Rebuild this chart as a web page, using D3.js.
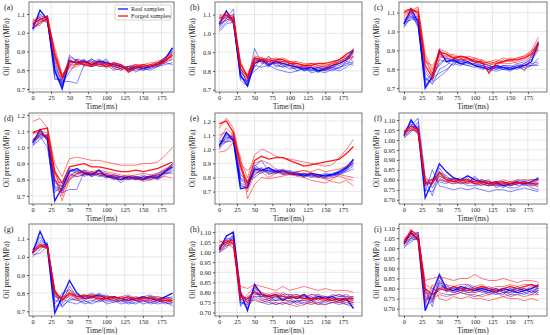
<!DOCTYPE html>
<html>
<head>
<meta charset="utf-8">
<script src="https://cdn.jsdelivr.net/npm/d3@7"></script>
<style>
body { margin: 0; background: #fff; }
svg text { font-family: "Liberation Serif", "DejaVu Serif", serif; fill: #222; }
</style>
</head>
<body>
<div class="container"></div>
<script>
// sample times (ms)
const timeMs = [0,10,20,30,40,50,60,70,80,90,100,110,120,130,140,150,160,170,180,190]
const xTicks = [0,25,50,75,100,125,150,175]
const panelLabels = ["(a)","(b)","(c)","(d)","(e)","(f)","(g)","(h)","(i)"]
const legendLabels = ["Real samples", "Forged samples"]

// oil pressure (MPa), one row per sample
const realA = [
[1.02,1.12,1.07,0.80,0.70,0.85,0.84,0.85,0.83,0.85,0.84,0.83,0.82,0.80,0.82,0.81,0.82,0.83,0.86,0.92],
[1.04,1.09,1.08,0.76,0.74,0.88,0.85,0.83,0.86,0.84,0.85,0.82,0.81,0.82,0.83,0.81,0.82,0.84,0.87,0.90],
[1.05,1.07,1.06,0.85,0.72,0.82,0.86,0.82,0.84,0.86,0.83,0.84,0.82,0.81,0.81,0.82,0.83,0.82,0.85,0.88],
[1.03,1.05,1.08,0.78,0.73,0.79,0.84,0.86,0.82,0.83,0.84,0.82,0.83,0.81,0.80,0.81,0.82,0.83,0.84,0.86],
[1.06,1.08,1.05,0.82,0.71,0.86,0.83,0.84,0.85,0.82,0.82,0.83,0.80,0.82,0.81,0.80,0.81,0.82,0.83,0.84],
[1.02,1.06,1.07,0.75,0.75,0.83,0.86,0.85,0.83,0.84,0.86,0.81,0.82,0.80,0.82,0.82,0.81,0.83,0.85,0.89],
[1.04,1.10,1.06,0.83,0.74,0.74,0.73,0.83,0.82,0.85,0.83,0.80,0.81,0.82,0.79,0.81,0.80,0.82,0.84,0.83],
[1.01,1.07,1.09,0.79,0.72,0.87,0.85,0.84,0.86,0.83,0.82,0.84,0.82,0.81,0.82,0.80,0.82,0.84,0.86,0.91]]
const forgedA = [
[1.03,1.04,1.08,0.90,0.77,0.84,0.85,0.84,0.85,0.83,0.84,0.83,0.82,0.80,0.82,0.83,0.84,0.84,0.86,0.89],
[1.05,1.07,1.09,0.88,0.76,0.85,0.84,0.83,0.82,0.84,0.82,0.84,0.83,0.79,0.81,0.83,0.82,0.83,0.85,0.88],
[1.06,1.08,1.06,0.86,0.75,0.83,0.83,0.85,0.84,0.83,0.83,0.82,0.81,0.82,0.82,0.81,0.83,0.85,0.86,0.87],
[1.04,1.06,1.07,0.92,0.78,0.81,0.82,0.84,0.83,0.85,0.81,0.83,0.82,0.81,0.83,0.82,0.83,0.84,0.85,0.86],
[1.03,1.05,1.08,0.87,0.76,0.84,0.85,0.83,0.84,0.82,0.83,0.82,0.83,0.81,0.82,0.82,0.83,0.83,0.84,0.90],
[1.07,1.08,1.07,0.89,0.77,0.82,0.83,0.84,0.82,0.83,0.84,0.81,0.80,0.82,0.83,0.83,0.82,0.84,0.87,0.89]]

const realB = [
[1.05,1.12,1.06,0.78,0.72,0.84,0.86,0.83,0.85,0.84,0.83,0.82,0.81,0.82,0.80,0.81,0.83,0.84,0.86,0.91],
[1.03,1.08,1.13,0.80,0.74,0.92,0.84,0.85,0.83,0.82,0.84,0.83,0.80,0.81,0.82,0.80,0.82,0.83,0.85,0.84],
[1.06,1.09,1.07,0.76,0.75,0.82,0.87,0.84,0.84,0.85,0.82,0.81,0.83,0.80,0.81,0.82,0.81,0.82,0.84,0.83],
[1.02,1.06,1.08,0.82,0.73,0.86,0.85,0.82,0.86,0.83,0.81,0.82,0.82,0.79,0.80,0.81,0.82,0.81,0.85,0.90],
[1.04,1.10,1.05,0.79,0.76,0.80,0.83,0.88,0.82,0.84,0.83,0.80,0.81,0.82,0.79,0.82,0.83,0.85,0.87,0.92],
[1.05,1.07,1.09,0.75,0.72,0.85,0.86,0.84,0.85,0.83,0.84,0.82,0.81,0.80,0.82,0.81,0.80,0.82,0.83,0.88],
[1.01,1.05,1.06,0.81,0.77,0.83,0.82,0.83,0.81,0.80,0.79,0.80,0.82,0.81,0.80,0.79,0.81,0.80,0.82,0.85],
[1.04,1.08,1.10,0.77,0.74,0.87,0.85,0.86,0.84,0.82,0.83,0.82,0.80,0.82,0.81,0.80,0.82,0.84,0.86,0.89]]
const forgedB = [
[1.09,1.11,1.08,0.82,0.76,0.86,0.87,0.86,0.87,0.86,0.85,0.84,0.83,0.84,0.84,0.83,0.84,0.86,0.88,0.92],
[1.08,1.10,1.07,0.84,0.77,0.87,0.86,0.85,0.86,0.86,0.84,0.84,0.83,0.83,0.84,0.84,0.85,0.86,0.89,0.91],
[1.06,1.09,1.10,0.80,0.75,0.85,0.86,0.86,0.85,0.85,0.84,0.83,0.82,0.84,0.83,0.82,0.83,0.85,0.87,0.87],
[1.10,1.08,1.06,0.83,0.78,0.88,0.87,0.85,0.86,0.85,0.85,0.84,0.82,0.83,0.82,0.81,0.83,0.84,0.86,0.88],
[1.05,1.07,1.09,0.85,0.76,0.84,0.85,0.84,0.84,0.84,0.83,0.82,0.83,0.82,0.82,0.83,0.84,0.85,0.87,0.90],
[1.07,1.10,1.08,0.81,0.77,0.86,0.86,0.87,0.86,0.87,0.85,0.85,0.84,0.84,0.83,0.82,0.84,0.86,0.88,0.85]]

const realC = [
[1.04,1.12,1.05,0.70,0.76,0.90,0.84,0.85,0.83,0.84,0.82,0.81,0.80,0.82,0.81,0.80,0.81,0.82,0.84,0.94],
[1.02,1.08,1.04,0.74,0.78,0.82,0.86,0.84,0.85,0.83,0.83,0.82,0.81,0.80,0.81,0.81,0.82,0.83,0.85,0.90],
[1.05,1.06,1.07,0.76,0.72,0.80,0.82,0.86,0.84,0.85,0.84,0.83,0.82,0.81,0.80,0.81,0.80,0.82,0.83,0.84],
[1.03,1.10,1.02,0.72,0.75,0.78,0.80,0.83,0.82,0.84,0.82,0.80,0.81,0.82,0.80,0.79,0.81,0.80,0.82,0.83],
[1.06,1.09,1.06,0.78,0.74,0.85,0.84,0.82,0.86,0.83,0.85,0.83,0.82,0.80,0.82,0.82,0.81,0.83,0.86,0.92],
[1.03,1.07,1.08,0.73,0.77,0.88,0.85,0.84,0.83,0.82,0.81,0.82,0.79,0.81,0.81,0.80,0.82,0.82,0.82,0.86],
[1.04,1.11,1.03,0.75,0.73,0.76,0.79,0.84,0.83,0.82,0.83,0.81,0.80,0.79,0.80,0.80,0.81,0.81,0.82,0.82],
[1.05,1.08,1.05,0.71,0.76,0.83,0.86,0.85,0.84,0.86,0.84,0.82,0.81,0.81,0.82,0.81,0.83,0.84,0.87,0.95]]
const forgedC = [
[1.08,1.11,1.13,0.86,0.78,0.91,0.89,0.87,0.86,0.87,0.86,0.85,0.83,0.84,0.86,0.85,0.86,0.87,0.90,0.97],
[1.10,1.12,1.10,0.82,0.76,0.89,0.88,0.86,0.87,0.86,0.84,0.84,0.78,0.83,0.84,0.85,0.85,0.86,0.88,0.93],
[1.06,1.10,1.12,0.88,0.80,0.88,0.87,0.86,0.85,0.85,0.85,0.83,0.84,0.83,0.85,0.84,0.86,0.87,0.89,0.95],
[1.09,1.11,1.08,0.80,0.74,0.86,0.87,0.88,0.86,0.84,0.86,0.84,0.82,0.84,0.83,0.83,0.84,0.85,0.88,0.90],
[1.07,1.10,1.11,0.84,0.82,0.87,0.86,0.85,0.87,0.86,0.83,0.85,0.83,0.82,0.84,0.85,0.83,0.79,0.87,0.91],
[1.11,1.12,1.09,0.85,0.77,0.90,0.88,0.86,0.85,0.86,0.85,0.83,0.84,0.85,0.84,0.86,0.85,0.86,0.89,0.94]]

const realD = [
[1.03,1.11,1.05,0.67,0.75,0.85,0.87,0.84,0.83,0.86,0.82,0.81,0.80,0.82,0.81,0.80,0.82,0.81,0.85,0.88],
[1.01,1.08,1.07,0.74,0.72,0.74,0.74,0.85,0.82,0.84,0.83,0.82,0.81,0.80,0.82,0.81,0.80,0.82,0.84,0.87],
[1.04,1.06,1.08,0.78,0.76,0.86,0.84,0.83,0.85,0.83,0.81,0.83,0.82,0.81,0.80,0.82,0.81,0.83,0.86,0.90],
[1.02,1.10,1.04,0.80,0.73,0.82,0.86,0.82,0.84,0.85,0.84,0.82,0.78,0.82,0.81,0.80,0.83,0.82,0.85,0.89],
[1.05,1.07,1.00,0.72,0.77,0.87,0.85,0.84,0.82,0.84,0.83,0.80,0.82,0.81,0.82,0.81,0.82,0.80,0.83,0.86],
[1.03,1.09,1.06,0.76,0.74,0.80,0.83,0.86,0.83,0.86,0.82,0.83,0.81,0.82,0.80,0.82,0.82,0.84,0.86,0.89],
[1.01,1.05,1.08,0.79,0.78,0.84,0.82,0.83,0.84,0.82,0.83,0.81,0.82,0.80,0.81,0.83,0.81,0.82,0.84,0.84],
[1.04,1.08,1.06,0.75,0.73,0.86,0.86,0.85,0.84,0.83,0.82,0.82,0.80,0.81,0.82,0.81,0.82,0.83,0.85,0.90]]
const forgedD = [
[1.16,1.18,1.12,0.90,0.82,0.93,0.94,0.93,0.92,0.92,0.91,0.90,0.89,0.89,0.89,0.90,0.90,0.91,0.95,1.00],
[1.09,1.11,1.12,0.85,0.78,0.88,0.89,0.90,0.88,0.88,0.87,0.86,0.85,0.85,0.86,0.85,0.86,0.87,0.89,0.91],
[1.03,1.07,1.08,0.82,0.67,0.80,0.84,0.85,0.83,0.84,0.84,0.83,0.82,0.83,0.82,0.80,0.81,0.82,0.86,0.89],
[1.08,1.10,1.09,0.84,0.75,0.82,0.85,0.84,0.85,0.84,0.82,0.81,0.80,0.81,0.81,0.79,0.80,0.81,0.82,0.81],
[1.05,1.08,1.07,0.80,0.72,0.81,0.84,0.86,0.85,0.86,0.85,0.84,0.83,0.82,0.83,0.84,0.83,0.84,0.87,0.88],
[1.10,1.09,1.06,0.86,0.70,0.83,0.82,0.83,0.84,0.83,0.83,0.82,0.82,0.82,0.80,0.81,0.82,0.83,0.84,0.85]]

const realE = [
[1.02,1.12,1.06,0.72,0.73,0.86,0.85,0.87,0.84,0.85,0.83,0.82,0.81,0.83,0.82,0.81,0.82,0.84,0.87,0.93],
[1.04,1.08,1.09,0.78,0.75,0.88,0.92,0.84,0.85,0.83,0.82,0.83,0.82,0.81,0.80,0.82,0.82,0.83,0.86,0.90],
[1.00,1.06,1.05,0.80,0.77,0.82,0.86,0.82,0.84,0.86,0.84,0.81,0.83,0.82,0.81,0.80,0.81,0.82,0.84,0.86],
[1.05,1.10,1.07,0.75,0.72,0.85,0.87,0.83,0.83,0.84,0.85,0.83,0.80,0.82,0.82,0.81,0.83,0.84,0.88,0.92],
[1.03,1.07,1.10,0.82,0.78,0.80,0.84,0.85,0.86,0.82,0.83,0.82,0.82,0.80,0.81,0.83,0.82,0.82,0.85,0.88],
[1.06,1.05,1.08,0.76,0.74,0.87,0.86,0.84,0.85,0.84,0.83,0.84,0.81,0.83,0.80,0.82,0.81,0.83,0.86,0.91],
[1.01,1.09,1.06,0.79,0.76,0.84,0.83,0.86,0.83,0.85,0.82,0.82,0.83,0.81,0.82,0.81,0.82,0.85,0.87,0.89],
[1.03,1.11,1.08,0.74,0.73,0.89,0.85,0.85,0.84,0.83,0.84,0.83,0.82,0.82,0.81,0.80,0.82,0.83,0.85,0.92]]
const forgedE = [
[1.15,1.22,1.15,0.92,0.80,0.96,1.00,0.98,0.95,0.94,0.93,0.92,0.91,0.90,0.89,0.88,0.89,0.94,1.00,1.07],
[1.18,1.20,1.12,0.88,0.76,0.92,0.95,0.93,0.94,0.94,0.92,0.90,0.88,0.89,0.90,0.91,0.92,0.93,0.97,1.02],
[0.98,0.99,1.05,0.95,0.65,0.75,0.80,0.79,0.80,0.81,0.82,0.81,0.80,0.78,0.77,0.76,0.79,0.82,0.81,0.80],
[1.03,1.05,1.12,0.90,0.70,0.82,0.85,0.83,0.84,0.82,0.83,0.84,0.85,0.83,0.81,0.79,0.77,0.76,0.78,0.74],
[1.10,1.12,1.08,0.86,0.73,0.85,0.84,0.80,0.83,0.84,0.83,0.82,0.83,0.82,0.80,0.79,0.80,0.81,0.79,0.78],
[1.07,1.15,1.10,0.89,0.85,0.90,0.92,0.90,0.86,0.85,0.83,0.84,0.85,0.84,0.86,0.84,0.85,0.86,0.88,0.90]]

const realF = [
[1.02,1.10,1.05,0.71,0.79,0.88,0.84,0.81,0.80,0.82,0.80,0.79,0.78,0.79,0.77,0.78,0.79,0.78,0.79,0.81],
[1.04,1.07,1.11,0.82,0.76,0.82,0.80,0.80,0.81,0.78,0.82,0.78,0.77,0.78,0.79,0.77,0.78,0.79,0.78,0.80],
[1.01,1.05,1.04,0.74,0.85,0.77,0.76,0.75,0.76,0.75,0.76,0.75,0.74,0.75,0.75,0.74,0.75,0.76,0.75,0.74],
[1.03,1.08,1.03,0.80,0.72,0.84,0.82,0.79,0.80,0.80,0.79,0.80,0.78,0.77,0.78,0.79,0.77,0.78,0.79,0.76],
[1.02,1.06,1.07,0.77,0.81,0.79,0.78,0.81,0.79,0.81,0.78,0.77,0.79,0.78,0.76,0.78,0.78,0.80,0.77,0.78],
[1.04,1.09,1.04,0.78,0.78,0.86,0.81,0.80,0.78,0.79,0.81,0.79,0.80,0.76,0.78,0.77,0.79,0.77,0.78,0.79],
[1.01,1.04,1.09,0.75,0.74,0.80,0.79,0.78,0.79,0.77,0.77,0.78,0.77,0.78,0.77,0.76,0.76,0.78,0.76,0.75],
[1.03,1.07,1.06,0.79,0.80,0.83,0.80,0.81,0.80,0.80,0.79,0.80,0.79,0.78,0.79,0.78,0.80,0.79,0.80,0.80]]
const forgedF = [
[1.03,1.06,1.04,0.78,0.79,0.83,0.81,0.80,0.80,0.79,0.80,0.79,0.79,0.78,0.78,0.79,0.79,0.78,0.79,0.80],
[1.04,1.07,1.05,0.79,0.78,0.84,0.80,0.79,0.80,0.80,0.78,0.79,0.78,0.79,0.79,0.78,0.78,0.79,0.78,0.78],
[1.02,1.05,1.06,0.80,0.80,0.81,0.79,0.80,0.79,0.78,0.79,0.78,0.78,0.77,0.78,0.78,0.79,0.78,0.77,0.77],
[1.03,1.06,1.03,0.77,0.79,0.82,0.80,0.79,0.78,0.79,0.79,0.80,0.79,0.79,0.80,0.79,0.80,0.80,0.80,0.80],
[1.04,1.05,1.05,0.78,0.80,0.80,0.79,0.78,0.79,0.79,0.78,0.78,0.77,0.78,0.78,0.77,0.78,0.79,0.78,0.78]]

const realG = [
[1.02,1.14,1.05,0.69,0.78,0.87,0.80,0.77,0.78,0.79,0.77,0.78,0.77,0.76,0.77,0.78,0.77,0.76,0.78,0.80],
[1.04,1.09,1.07,0.82,0.72,0.77,0.76,0.75,0.76,0.75,0.77,0.75,0.76,0.75,0.74,0.76,0.75,0.76,0.75,0.73],
[1.00,1.04,1.08,0.74,0.80,0.82,0.78,0.79,0.77,0.80,0.78,0.76,0.77,0.78,0.76,0.77,0.76,0.75,0.77,0.76],
[1.03,1.07,1.04,0.71,0.74,0.79,0.79,0.76,0.78,0.77,0.76,0.77,0.75,0.77,0.76,0.75,0.77,0.76,0.74,0.75],
[1.01,1.02,1.06,0.78,0.77,0.75,0.74,0.76,0.74,0.76,0.75,0.76,0.74,0.75,0.76,0.74,0.75,0.74,0.75,0.74],
[1.04,1.11,1.05,0.76,0.75,0.84,0.78,0.78,0.80,0.78,0.79,0.77,0.78,0.79,0.77,0.78,0.79,0.77,0.78,0.77],
[1.02,1.06,1.07,0.80,0.73,0.76,0.77,0.74,0.75,0.78,0.74,0.75,0.76,0.74,0.75,0.76,0.74,0.75,0.76,0.75],
[1.03,1.08,1.06,0.72,0.76,0.80,0.77,0.78,0.79,0.76,0.78,0.78,0.77,0.76,0.78,0.77,0.78,0.78,0.77,0.78]]
const forgedG = [
[1.03,1.07,1.06,0.80,0.77,0.82,0.79,0.78,0.79,0.78,0.78,0.77,0.78,0.77,0.77,0.78,0.77,0.77,0.77,0.77],
[1.02,1.06,1.05,0.81,0.76,0.80,0.78,0.79,0.78,0.77,0.77,0.78,0.77,0.78,0.76,0.77,0.78,0.76,0.76,0.76],
[1.04,1.05,1.06,0.79,0.78,0.79,0.77,0.77,0.78,0.78,0.76,0.77,0.76,0.77,0.78,0.76,0.76,0.77,0.76,0.75],
[1.03,1.07,1.05,0.82,0.76,0.81,0.78,0.78,0.79,0.79,0.78,0.78,0.77,0.78,0.77,0.77,0.77,0.78,0.77,0.76],
[1.02,1.06,1.06,0.78,0.77,0.78,0.76,0.77,0.77,0.76,0.77,0.76,0.76,0.76,0.76,0.76,0.75,0.76,0.75,0.76]]

const realH = [
[1.01,1.08,1.10,0.80,0.71,0.84,0.79,0.78,0.79,0.76,0.78,0.77,0.79,0.76,0.78,0.77,0.78,0.76,0.77,0.72],
[1.03,1.05,1.07,0.75,0.74,0.82,0.80,0.77,0.78,0.78,0.77,0.75,0.77,0.78,0.76,0.78,0.76,0.77,0.76,0.77],
[1.00,1.02,1.08,0.77,0.73,0.77,0.75,0.74,0.75,0.74,0.76,0.74,0.75,0.74,0.75,0.74,0.75,0.74,0.75,0.74],
[1.02,1.06,1.04,0.73,0.78,0.80,0.78,0.79,0.77,0.80,0.78,0.79,0.77,0.79,0.78,0.77,0.79,0.78,0.78,0.76],
[1.01,1.04,1.09,0.79,0.75,0.83,0.77,0.76,0.76,0.77,0.75,0.76,0.76,0.75,0.77,0.75,0.77,0.75,0.76,0.75],
[1.02,1.07,1.06,0.76,0.72,0.79,0.79,0.76,0.78,0.76,0.79,0.77,0.78,0.77,0.79,0.76,0.78,0.79,0.77,0.78],
[1.00,1.03,1.05,0.78,0.76,0.81,0.76,0.75,0.74,0.75,0.74,0.76,0.74,0.76,0.74,0.76,0.75,0.76,0.74,0.73],
[1.03,1.06,1.08,0.74,0.77,0.78,0.78,0.78,0.76,0.79,0.77,0.78,0.79,0.77,0.78,0.78,0.77,0.78,0.79,0.77]]
const forgedH = [
[1.05,1.06,1.04,0.83,0.82,0.84,0.83,0.82,0.81,0.83,0.81,0.82,0.83,0.82,0.81,0.82,0.81,0.81,0.81,0.80],
[1.02,1.05,1.06,0.78,0.77,0.80,0.79,0.78,0.79,0.78,0.77,0.78,0.77,0.77,0.77,0.77,0.76,0.77,0.77,0.77],
[1.01,1.04,1.05,0.77,0.75,0.81,0.78,0.77,0.78,0.77,0.78,0.77,0.77,0.76,0.77,0.76,0.77,0.76,0.76,0.76],
[1.06,1.03,1.04,0.80,0.76,0.76,0.75,0.76,0.74,0.75,0.74,0.73,0.74,0.75,0.74,0.74,0.75,0.75,0.74,0.75],
[1.00,1.04,1.06,0.76,0.79,0.83,0.80,0.79,0.80,0.79,0.79,0.79,0.78,0.79,0.79,0.78,0.78,0.79,0.78,0.78],
[1.03,1.05,1.02,0.81,0.74,0.78,0.76,0.77,0.76,0.76,0.76,0.75,0.76,0.76,0.75,0.76,0.76,0.75,0.76,0.75]]

const realI = [
[1.02,1.08,1.04,0.69,0.78,0.87,0.80,0.79,0.81,0.80,0.79,0.80,0.79,0.78,0.80,0.79,0.78,0.79,0.80,0.82],
[1.00,1.05,1.08,0.79,0.71,0.84,0.79,0.80,0.78,0.81,0.80,0.78,0.79,0.80,0.78,0.79,0.80,0.78,0.79,0.78],
[1.03,1.07,1.05,0.74,0.76,0.80,0.82,0.78,0.79,0.78,0.78,0.79,0.77,0.79,0.79,0.77,0.79,0.80,0.78,0.80],
[1.04,1.06,1.07,0.80,0.73,0.86,0.78,0.81,0.79,0.79,0.81,0.79,0.80,0.78,0.77,0.80,0.78,0.77,0.79,0.77],
[1.01,1.03,1.06,0.72,0.80,0.78,0.77,0.77,0.78,0.77,0.76,0.77,0.78,0.77,0.78,0.76,0.77,0.78,0.77,0.79],
[1.02,1.05,1.04,0.76,0.75,0.82,0.80,0.79,0.80,0.80,0.79,0.80,0.81,0.79,0.80,0.79,0.81,0.79,0.81,0.80],
[1.03,1.07,1.08,0.78,0.77,0.79,0.81,0.80,0.79,0.82,0.80,0.79,0.78,0.80,0.79,0.80,0.79,0.80,0.78,0.81],
[1.02,1.04,1.05,0.71,0.74,0.83,0.79,0.78,0.80,0.78,0.79,0.81,0.79,0.80,0.78,0.78,0.80,0.79,0.80,0.79]]
const forgedI = [
[1.04,1.08,1.05,0.84,0.85,0.86,0.85,0.84,0.85,0.85,0.87,0.85,0.84,0.84,0.85,0.84,0.83,0.84,0.84,0.83],
[1.03,1.09,1.06,0.80,0.77,0.80,0.79,0.81,0.80,0.79,0.80,0.81,0.80,0.79,0.80,0.81,0.80,0.81,0.82,0.81],
[1.02,1.06,1.05,0.75,0.75,0.77,0.76,0.77,0.78,0.77,0.77,0.76,0.77,0.78,0.76,0.77,0.77,0.76,0.77,0.77],
[1.05,1.07,1.04,0.73,0.82,0.75,0.74,0.76,0.75,0.76,0.75,0.75,0.74,0.75,0.76,0.75,0.75,0.74,0.75,0.74],
[1.03,1.05,1.06,0.78,0.74,0.81,0.80,0.78,0.79,0.80,0.78,0.79,0.78,0.79,0.79,0.78,0.79,0.80,0.78,0.79],
[1.04,1.07,1.05,0.82,0.80,0.83,0.82,0.81,0.82,0.82,0.81,0.82,0.80,0.81,0.81,0.82,0.81,0.82,0.82,0.80]]

const realSets = [realA, realB, realC, realD, realE, realF, realG, realH, realI]
const forgedSets = [forgedA, forgedB, forgedC, forgedD, forgedE, forgedF, forgedG, forgedH, forgedI]

// y tick values per panel
const ticksTenths = [0.7, 0.8, 0.9, 1.0, 1.1]
const ticksTenthsHigh = [0.7, 0.8, 0.9, 1.0, 1.1, 1.2]
const ticksHalfTenths = [0.70, 0.75, 0.80, 0.85, 0.90, 0.95, 1.00, 1.05, 1.10]

// layout
const width = 550
const height = 335
const cols = [
    {left: 29, right: 174, xDomain: [-5, 192]},
    {left: 215, right: 362, xDomain: [-6, 202]},
    {left: 399, right: 547, xDomain: [-7, 202]}
]
const rows = [{top: 2, bottom: 92}, {top: 113, bottom: 204}, {top: 224, bottom: 316}]
const yDomains = [
    [0.684, 1.164], [0.688, 1.167], [0.680, 1.156],
    [0.650, 1.213], [0.612, 1.257], [0.679, 1.135],
    [0.674, 1.181], [0.683, 1.140], [0.664, 1.120]
]
const yTickSets = [ticksTenths, ticksTenths, ticksTenths,
    ticksTenthsHigh, ticksTenthsHigh, ticksHalfTenths,
    ticksTenths, ticksHalfTenths, ticksHalfTenths]

const svg = d3.select(".container")
    .append("svg")
    .attr("width", width)
    .attr("height", height)

svg.append("rect").attr("width", width).attr("height", height).attr("fill", "#fff")

panelLabels.forEach((label, p) => {
    const col = cols[p % 3]
    const row = rows[Math.floor(p / 3)]

    const x = d3.scaleLinear().domain(col.xDomain).range([col.left, col.right])
    const y = d3.scaleLinear().domain(yDomains[p]).range([row.bottom, row.top])
    const yTicks = yTickSets[p]
    const yFmt = yTicks === ticksHalfTenths ? d3.format(".2f") : d3.format(".1f")

    const g = svg.append("g")

    // grid
    g.selectAll(".vgrid")
        .data(xTicks)
        .join("line")
        .attr("x1", d => x(d)).attr("x2", d => x(d))
        .attr("y1", row.top).attr("y2", row.bottom)
        .attr("stroke", "#e2e2e2").attr("stroke-width", 0.8)
    g.selectAll(".hgrid")
        .data(yTicks)
        .join("line")
        .attr("x1", col.left).attr("x2", col.right)
        .attr("y1", d => y(d)).attr("y2", d => y(d))
        .attr("stroke", "#e2e2e2").attr("stroke-width", 0.8)

    // axes
    const xAxis = g.append("g")
        .attr("transform", `translate(0, ${row.bottom})`)
        .call(d3.axisBottom(x).tickValues(xTicks).tickSize(2).tickSizeOuter(0).tickPadding(1))
    const yAxis = g.append("g")
        .attr("transform", `translate(${col.left}, 0)`)
        .call(d3.axisLeft(y).tickValues(yTicks).tickFormat(yFmt).tickSize(2).tickSizeOuter(0).tickPadding(2))
    ;[xAxis, yAxis].forEach(a => {
        a.select(".domain").remove()
        a.selectAll(".tick line").attr("stroke", "#555")
        a.selectAll("text").attr("font-size", 6.5).attr("font-family", "Liberation Serif").attr("fill", "#222")
    })

    const line = d3.line()
        .x((d, i) => x(timeMs[i]))
        .y(d => y(d))

    g.selectAll(".real")
        .data(realSets[p])
        .join("path")
        .attr("d", line)
        .attr("fill", "none")
        .attr("stroke", "#0000ff")
        .attr("stroke-width", (d, i) => i === 0 ? 1.4 : 0.8)
        .attr("stroke-opacity", (d, i) => i === 0 ? 0.9 : 0.6)

    g.selectAll(".forged")
        .data(forgedSets[p])
        .join("path")
        .attr("d", line)
        .attr("fill", "none")
        .attr("stroke", "#ff0000")
        .attr("stroke-width", (d, i) => i === 1 ? 1.3 : 0.8)
        .attr("stroke-opacity", (d, i) => i === 1 ? 0.9 : 0.65)

    // frame
    g.append("rect")
        .attr("x", col.left).attr("y", row.top)
        .attr("width", col.right - col.left).attr("height", row.bottom - row.top)
        .attr("fill", "none").attr("stroke", "#555").attr("stroke-width", 0.8)

    // titles
    g.append("text")
        .attr("x", (col.left + col.right) / 2)
        .attr("y", row.bottom + 16.5)
        .attr("text-anchor", "middle")
        .attr("font-size", 7.5)
        .text("Time/(ms)")
    g.append("text")
        .attr("transform", `translate(${col.left - 20}, ${(row.top + row.bottom) / 2}) rotate(-90)`)
        .attr("text-anchor", "middle")
        .attr("font-size", 7.5)
        .text("Oil pressure/(MPa)")
    g.append("text")
        .attr("x", col.left - 25)
        .attr("y", row.top + 8)
        .attr("font-size", 8)
        .text(label)
})

// legend in panel (a)
const legend = svg.append("g").attr("transform", "translate(115, 5)")
legend.append("rect")
    .attr("width", 56).attr("height", 15).attr("rx", 2)
    .attr("fill", "#fff").attr("fill-opacity", 0.85)
    .attr("stroke", "#bbb").attr("stroke-width", 0.6)
legendLabels.forEach((name, i) => {
    legend.append("line")
        .attr("x1", 3).attr("x2", 13)
        .attr("y1", 4 + i * 7).attr("y2", 4 + i * 7)
        .attr("stroke", i === 0 ? "#0000ff" : "#ff0000")
        .attr("stroke-width", 1.2)
    legend.append("text")
        .attr("x", 16).attr("y", 6.2 + i * 7)
        .attr("font-size", 6.3)
        .text(name)
})
</script>
</body>
</html>
